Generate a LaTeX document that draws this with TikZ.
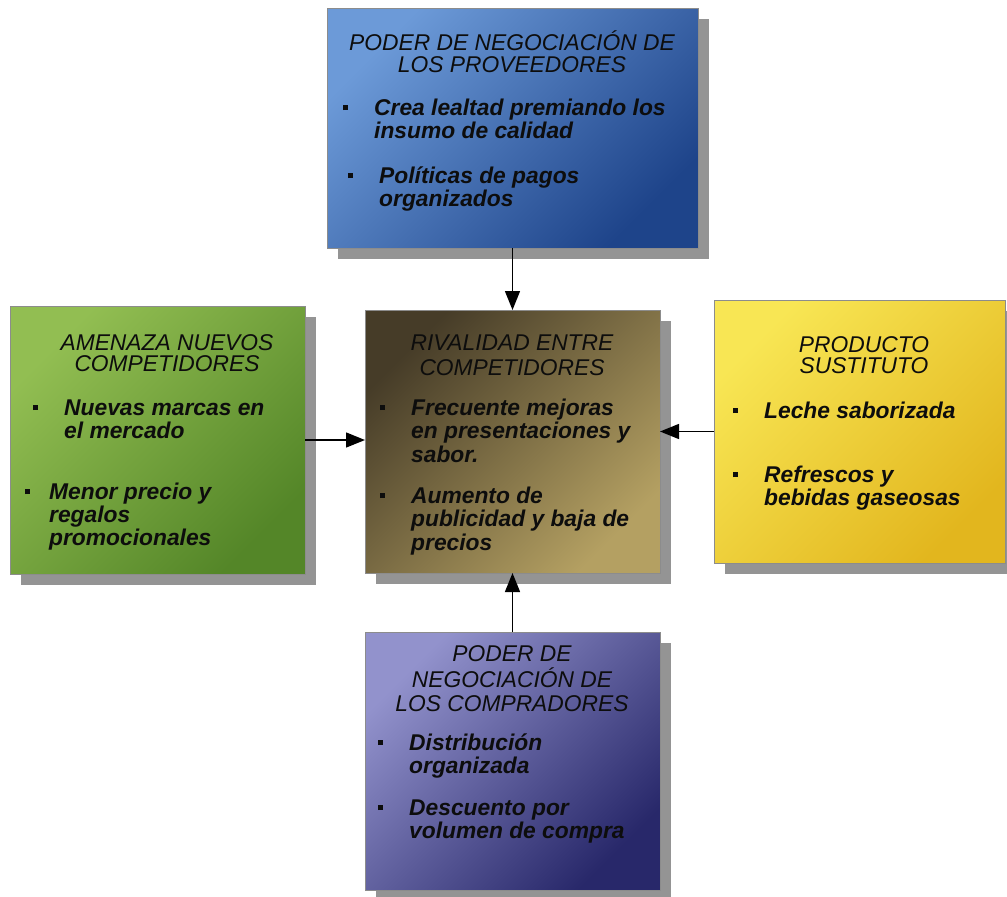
\documentclass[tikz,border=0pt]{standalone}
\usepackage{fontspec}
\setmainfont{Liberation Sans}
\usetikzlibrary{arrows.meta,shadows}

\definecolor{provA}{RGB}{108,154,216}
\definecolor{provB}{RGB}{30,68,138}
\definecolor{nuevA}{RGB}{146,190,82}
\definecolor{nuevB}{RGB}{84,134,40}
\definecolor{rivaA}{RGB}{70,60,40}
\definecolor{rivaB}{RGB}{180,160,98}
\definecolor{sustA}{RGB}{248,230,84}
\definecolor{sustB}{RGB}{226,182,30}
\definecolor{compA}{RGB}{146,146,204}
\definecolor{compB}{RGB}{40,40,106}

\tikzset{
  caja/.style={draw=black!45, line width=0.6pt, inner sep=0pt, outer sep=0pt,
    drop shadow={shadow xshift=11pt, shadow yshift=-11pt, fill=black!42, opacity=1}},
  titulo/.style={anchor=base, inner sep=0pt, text=black!95,
    font=\fontsize{22.8}{22}\selectfont\itshape},
  punto/.style={anchor=base west, inner sep=0pt, text=black!95,
    font=\fontsize{22.8}{23.5}\selectfont\bfseries\itshape},
  flecha/.style={line width=1.4pt, -{Triangle[length=19pt,width=15pt]}}
}
\newcommand{\vineta}{\makebox[31pt][l]{\rule[5pt]{5pt}{5pt}}}
\newcommand{\lineas}[1]{\begin{tabular}[t]{@{}l@{}}#1\end{tabular}}
\newcommand{\centradas}[1]{\begin{tabular}[t]{@{}c@{}}#1\end{tabular}}

\begin{document}
\begin{tikzpicture}[x=1pt,y=-1pt]
  \useasboundingbox (0,0) rectangle (1007,897);

  \node[caja, top color=provA, bottom color=provB, shading angle=45,
    minimum width=371pt, minimum height=240pt] (prov) at (512.5,128) {};
  \node[caja, top color=nuevA, bottom color=nuevB, shading angle=45,
    minimum width=295pt, minimum height=268pt] (nuevos) at (157.5,440) {};
  \node[caja, top color=rivaA, bottom color=rivaB, shading angle=45,
    minimum width=295pt, minimum height=263pt] (rival) at (512.5,441.5) {};
  \node[caja, top color=sustA, bottom color=sustB, shading angle=45,
    minimum width=291pt, minimum height=263pt] (sust) at (859.5,431.5) {};
  \node[caja, top color=compA, bottom color=compB, shading angle=45,
    minimum width=295pt, minimum height=258pt] (comp) at (512.5,761) {};

  \node[titulo] (provT) at (512,50)
    {\centradas{PODER DE NEGOCIACIÓN DE\\LOS PROVEEDORES}};
  \node[punto] (provA) at (343,115)
    {\vineta\lineas{Crea lealtad premiando los\\insumo de calidad}};
  \node[punto] (provB) at (348,183)
    {\vineta\lineas{Políticas de pagos\\organizados}};

  \node[titulo, font=\fontsize{22.8}{20}\selectfont\itshape] (nuevosT) at (167,350)
    {\centradas{AMENAZA NUEVOS\\COMPETIDORES}};
  \node[punto] (nuevosA) at (33,415)
    {\vineta\lineas{Nuevas marcas en\\el mercado}};
  \node[punto, font=\fontsize{22.8}{22}\selectfont\bfseries\itshape] (nuevosB) at (25,499)
    {\makebox[24pt][l]{\rule[5pt]{5pt}{5pt}}\lineas{Menor precio y\\regalos\\promocionales}};

  \node[titulo, font=\fontsize{22.8}{25}\selectfont\itshape] (rivalT) at (512,350)
    {\centradas{RIVALIDAD ENTRE\\COMPETIDORES}};
  \node[punto] (rivalA) at (380,415)
    {\vineta\lineas{Frecuente mejoras\\en presentaciones y\\sabor.}};
  \node[punto] (rivalB) at (380,503)
    {\vineta\lineas{Aumento de\\publicidad y baja de\\precios}};

  \node[titulo, font=\fontsize{22.8}{19.5}\selectfont\itshape] (sustT) at (864,352)
    {\centradas{PRODUCTO\\SUSTITUTO}};
  \node[punto] (sustA) at (733,418)
    {\vineta\lineas{Leche saborizada}};
  \node[punto] (sustB) at (733,482)
    {\vineta\lineas{Refrescos y\\bebidas gaseosas}};

  \node[titulo, font=\fontsize{22.8}{23.5}\selectfont\itshape] (compT) at (512,661)
    {\centradas{PODER DE\\NEGOCIACIÓN DE\\LOS COMPRADORES}};
  \node[punto] (compA) at (378,750)
    {\vineta\lineas{Distribución\\organizada}};
  \node[punto] (compB) at (378,815)
    {\vineta\lineas{Descuento por\\volumen de compra}};

  \draw[flecha] (prov.south) -- (rival.north);
  \draw[flecha] (nuevos.east) -- (rival.west |- nuevos.east);
  \draw[flecha] (sust.west) -- (rival.east |- sust.west);
  \draw[flecha] (comp.north) -- (rival.south);
\end{tikzpicture}
\end{document}
